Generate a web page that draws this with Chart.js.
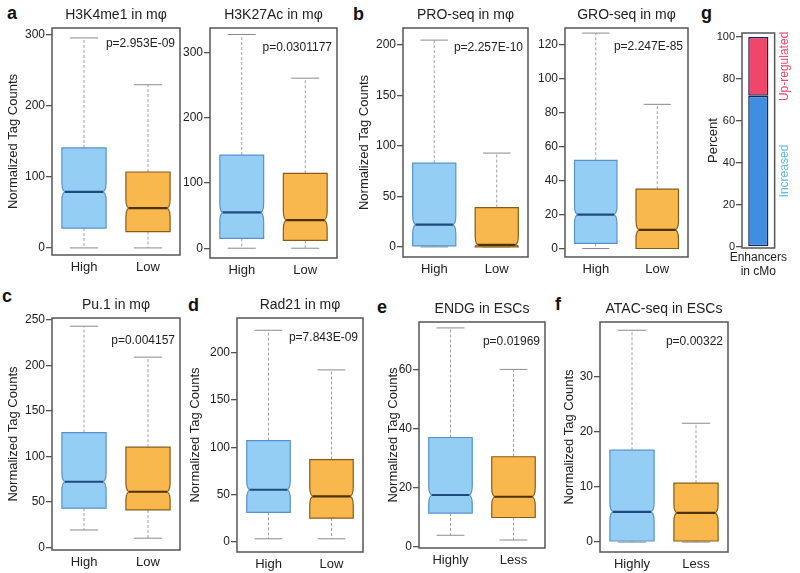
<!DOCTYPE html>
<html>
<head>
<meta charset="utf-8">
<script src="https://cdn.jsdelivr.net/npm/chart.js@4.4.1/dist/chart.umd.min.js"></script>
<style>
body{margin:0;background:#fff;width:800px;height:573px;position:relative;overflow:hidden;font-family:"Liberation Sans",Arial,sans-serif}
canvas{position:absolute}
.tag{position:absolute;font:bold 18px/18px "Liberation Sans",Arial,sans-serif;color:#111}
</style>
</head>
<body>
<div class="tag" style="left:7px;top:4px">a</div>
<div class="tag" style="left:353px;top:5px">b</div>
<div class="tag" style="left:701px;top:4px">g</div>
<div class="tag" style="left:2px;top:287px">c</div>
<div class="tag" style="left:188px;top:296px">d</div>
<div class="tag" style="left:377px;top:298px">e</div>
<div class="tag" style="left:555px;top:295px">f</div>
<script>
const groups = ['High', 'Low'];
const groupsEsc = ['Highly', 'Less'];

// five-number summaries: [lower whisker, q1, median, q3, upper whisker]
const h3k4me1High = [0, 28, 79, 141, 296];
const h3k4me1Low = [0, 23, 56, 107, 230];
const h3k27acHigh = [0, 15, 55, 143, 328];
const h3k27acLow = [0, 12, 43, 115, 261];
const proseqHigh = [0, 1, 22, 83, 205];
const proseqLow = [0, 0, 2, 39, 93];
const groseqHigh = [0, 3, 20, 52, 127];
const groseqLow = [0, 0, 11, 35, 85];
const pu1High = [19, 43, 72, 126, 243];
const pu1Low = [10, 41, 61, 110, 209];
const rad21High = [3, 31, 55, 107, 224];
const rad21Low = [3, 25, 48, 87, 182];
const endgHigh = [4, 11.5, 17.6, 37, 74];
const endgLow = [2.4, 10, 17, 30.5, 60];
const atacHigh = [0, 0.2, 5.5, 16.7, 38.5];
const atacLow = [0, 0.2, 5.3, 10.7, 21.6];

const ticks300 = [0, 100, 200, 300];
const ticks200 = [0, 50, 100, 150, 200];
const ticks120 = [0, 20, 40, 60, 80, 100, 120];
const ticks250 = [0, 50, 100, 150, 200, 250];
const ticks60 = [0, 20, 40, 60];
const ticks30 = [0, 10, 20, 30];
const percentTicks = [0, 20, 40, 60, 80, 100];

const enhancerShare = [72, 28];
const enhancerGroups = ['Increased', 'Up-regulated'];

const FONT = '"Liberation Sans", Arial, sans-serif';
const palette = [
  {fill: '#95cef5', edge: '#5693cc', mid: '#1d4b80'},
  {fill: '#f9b84e', edge: '#8a5b17', mid: '#4d3300'}
];

function frameAndText(o) {
  return {
    id: 'frameText',
    afterDraw(chart) {
      const ctx = chart.ctx, ca = chart.chartArea;
      ctx.save();
      ctx.strokeStyle = '#555';
      ctx.lineWidth = 1.5;
      ctx.strokeRect(ca.left, ca.top, ca.right - ca.left, ca.bottom - ca.top);
      ctx.fillStyle = '#222';
      ctx.textAlign = 'center';
      ctx.textBaseline = 'middle';
      ctx.font = '14px ' + FONT;
      ctx.fillText(o.title, (ca.left + ca.right) / 2, ca.top - 13);
      if (o.p) {
        ctx.font = '12px ' + FONT;
        ctx.textAlign = 'right';
        ctx.fillText(o.p, ca.right - 5, ca.top + o.pOff);
      }
      ctx.restore();
    }
  };
}

const boxPlugin = {
  id: 'notchBox',
  afterDatasetsDraw(chart, args, opts) {
    const ctx = chart.ctx, y = chart.scales.y;
    const stats = opts.stats;
    chart.getDatasetMeta(0).data.forEach((bar, i) => {
      const s = stats[i], c = palette[i];
      const x0 = bar.x - bar.width / 2, x1 = bar.x + bar.width / 2, xc = bar.x;
      const [pw0, p1, pm, p3, pw1] = s.map(v => y.getPixelForValue(v));
      const cap = bar.width * 0.32;
      ctx.save();
      // whiskers
      ctx.strokeStyle = '#a0a0a0';
      ctx.lineWidth = 1;
      ctx.setLineDash([3, 2]);
      ctx.beginPath();
      ctx.moveTo(xc, p3); ctx.lineTo(xc, pw1);
      ctx.moveTo(xc, p1); ctx.lineTo(xc, pw0);
      ctx.stroke();
      ctx.setLineDash([]);
      ctx.strokeStyle = '#8a8a8a';
      ctx.beginPath();
      ctx.moveTo(xc - cap, pw1); ctx.lineTo(xc + cap, pw1);
      ctx.moveTo(xc - cap, pw0); ctx.lineTo(xc + cap, pw0);
      ctx.stroke();
      // notched box
      const nT = Math.max(pm - 9, p3), nB = Math.min(pm + 9, p1), d = 4;
      ctx.beginPath();
      ctx.moveTo(x0, p3);
      ctx.lineTo(x1, p3);
      ctx.lineTo(x1, nT);
      ctx.quadraticCurveTo(x1, pm, x1 - d, pm);
      ctx.quadraticCurveTo(x1, pm, x1, nB);
      ctx.lineTo(x1, p1);
      ctx.lineTo(x0, p1);
      ctx.lineTo(x0, nB);
      ctx.quadraticCurveTo(x0, pm, x0 + d, pm);
      ctx.quadraticCurveTo(x0, pm, x0, nT);
      ctx.closePath();
      ctx.fillStyle = c.fill;
      ctx.fill();
      ctx.strokeStyle = c.edge;
      ctx.lineWidth = 1.2;
      ctx.stroke();
      // median
      ctx.strokeStyle = c.mid;
      ctx.lineWidth = 2.2;
      ctx.beginPath();
      ctx.moveTo(x0 + d - 1, pm); ctx.lineTo(x1 - d + 1, pm);
      ctx.stroke();
      ctx.restore();
    });
  }
};

function place(left, top, w, h) {
  const cv = document.createElement('canvas');
  cv.width = w; cv.height = h;
  cv.style.left = left + 'px';
  cv.style.top = top + 'px';
  document.body.appendChild(cv);
  return cv;
}

function yScale(o, titleText) {
  return {
    min: o.range[0], max: o.range[1],
    afterBuildTicks: s => { s.ticks = o.ticks.map(v => ({value: v})); },
    afterFit: s => { s.width = o.axisW; },
    grid: {drawOnChartArea: false, drawTicks: true, tickLength: 6, color: '#555', lineWidth: 1.3},
    border: {display: false},
    ticks: {color: '#222', font: {size: 12, family: FONT}, padding: 1},
    title: {display: !!o.yTitle, text: titleText, color: '#222', font: {size: 13, family: FONT}, padding: 0}
  };
}

function boxPanel(o) {
  const [l, t, r, b] = o.frame;
  const cv = place(l - o.axisW, t - 30, r - l + o.axisW + 3, b - t + 54);
  new Chart(cv, {
    type: 'bar',
    data: {
      labels: o.labels,
      datasets: [{
        data: o.stats.map(s => [s[1], s[3]]),
        backgroundColor: 'rgba(0,0,0,0)',
        borderWidth: 0,
        categoryPercentage: 1,
        barPercentage: 0.69
      }]
    },
    options: {
      responsive: false,
      animation: false,
      events: [],
      layout: {padding: {top: 30, right: 3, left: 0, bottom: 0}},
      plugins: {legend: {display: false}, tooltip: {enabled: false}, notchBox: {stats: o.stats}},
      scales: {
        x: {
          grid: {display: false, drawTicks: false}, border: {display: false},
          ticks: {color: '#222', font: {size: 13, family: FONT}, padding: 5, maxRotation: 0},
          afterFit: s => { s.height = 24; }
        },
        y: yScale(o, 'Normalized Tag Counts')
      }
    },
    plugins: [boxPlugin, frameAndText(o)]
  });
}

boxPanel({frame: [52, 28, 180, 255], axisW: 46, yTitle: true, range: [-10, 310], ticks: ticks300,
  labels: groups, stats: [h3k4me1High, h3k4me1Low], title: 'H3K4me1 in mφ', p: 'p=2.953E-09', pOff: 16});
boxPanel({frame: [210, 28, 337, 258], axisW: 30, range: [-15, 338], ticks: ticks300,
  labels: groups, stats: [h3k27acHigh, h3k27acLow], title: 'H3K27Ac in mφ', p: 'p=0.0301177', pOff: 20});
boxPanel({frame: [403, 28, 528, 257], axisW: 46, yTitle: true, range: [-10, 217], ticks: ticks200,
  labels: groups, stats: [proseqHigh, proseqLow], title: 'PRO-seq in mφ', p: 'p=2.257E-10', pOff: 20});
boxPanel({frame: [565, 28, 688, 257], axisW: 32, range: [-5, 130], ticks: ticks120,
  labels: groups, stats: [groseqHigh, groseqLow], title: 'GRO-seq in mφ', p: 'p=2.247E-85', pOff: 19});
boxPanel({frame: [52, 318, 180, 550], axisW: 46, yTitle: true, range: [-3, 252], ticks: ticks250,
  labels: groups, stats: [pu1High, pu1Low], title: 'Pu.1 in mφ', p: 'p=0.004157', pOff: 23});
boxPanel({frame: [237, 318, 363, 552], axisW: 49, yTitle: true, range: [-11, 237], ticks: ticks200,
  labels: groups, stats: [rad21High, rad21Low], title: 'Rad21 in mφ', p: 'p=7.843E-09', pOff: 20});
boxPanel({frame: [419, 322, 545, 548], axisW: 33, yTitle: true, range: [-0.3, 76], ticks: ticks60,
  labels: groupsEsc, stats: [endgHigh, endgLow], title: 'ENDG in ESCs', p: 'p=0.01969', pOff: 20});
boxPanel({frame: [600, 322, 728, 552], axisW: 38, yTitle: true, range: [-1.8, 40], ticks: ticks30,
  labels: groupsEsc, stats: [atacHigh, atacLow], title: 'ATAC-seq in ESCs', p: 'p=0.00322', pOff: 20});

// panel g: stacked percent bar
const sideLabels = {
  id: 'sideLabels',
  afterDraw(chart) {
    const ctx = chart.ctx, ca = chart.chartArea;
    ctx.save();
    ctx.strokeStyle = '#555';
    ctx.lineWidth = 1.5;
    ctx.strokeRect(ca.left, ca.top, ca.right - ca.left, ca.bottom - ca.top);
    ctx.font = '12px ' + FONT;
    ctx.textAlign = 'center';
    ctx.textBaseline = 'middle';
    const colors = ['#5ab8ee', '#f0466b'];
    chart.data.datasets.forEach((ds, i) => {
      const el = chart.getDatasetMeta(i).data[0];
      const cy = (el.y + el.base) / 2;
      ctx.save();
      ctx.translate(ca.right + 10, cy);
      ctx.rotate(-Math.PI / 2);
      ctx.fillStyle = colors[i];
      ctx.fillText(ds.label, 0, 0);
      ctx.restore();
    });
    ctx.restore();
  }
};

(function () {
  const o = {frame: [742, 33, 778, 248], axisW: 36, yTitle: true, range: [-0.5, 101.9], ticks: percentTicks};
  const [l, t, r, b] = o.frame;
  const cv = place(l - o.axisW, t - 30, r - l + o.axisW + 22, b - t + 70);
  new Chart(cv, {
    type: 'bar',
    data: {
      labels: [['Enhancers', 'in cMo']],
      datasets: [
        {label: enhancerGroups[0], data: [enhancerShare[0]], backgroundColor: '#3f8ee0', borderColor: '#1b2450', borderWidth: 1.5, borderSkipped: false},
        {label: enhancerGroups[1], data: [enhancerShare[1]], backgroundColor: '#f0466b', borderColor: '#1b2450', borderWidth: 1.5, borderSkipped: false}
      ]
    },
    options: {
      responsive: false,
      animation: false,
      events: [],
      datasets: {bar: {categoryPercentage: 1, barPercentage: 0.62}},
      layout: {padding: {top: 30, right: 22, left: 0, bottom: 0}},
      plugins: {legend: {display: false}, tooltip: {enabled: false}},
      scales: {
        x: {
          stacked: true,
          grid: {display: false, drawTicks: false}, border: {display: false},
          ticks: {color: '#222', font: {size: 12, family: FONT}, padding: 2, maxRotation: 0},
          afterFit: s => { s.height = 40; }
        },
        y: Object.assign(yScale(o, 'Percent'), {stacked: true, ticks: {color: '#222', font: {size: 11, family: FONT}, padding: 1}})
      }
    },
    plugins: [sideLabels]
  });
})();
</script>
</body>
</html>
